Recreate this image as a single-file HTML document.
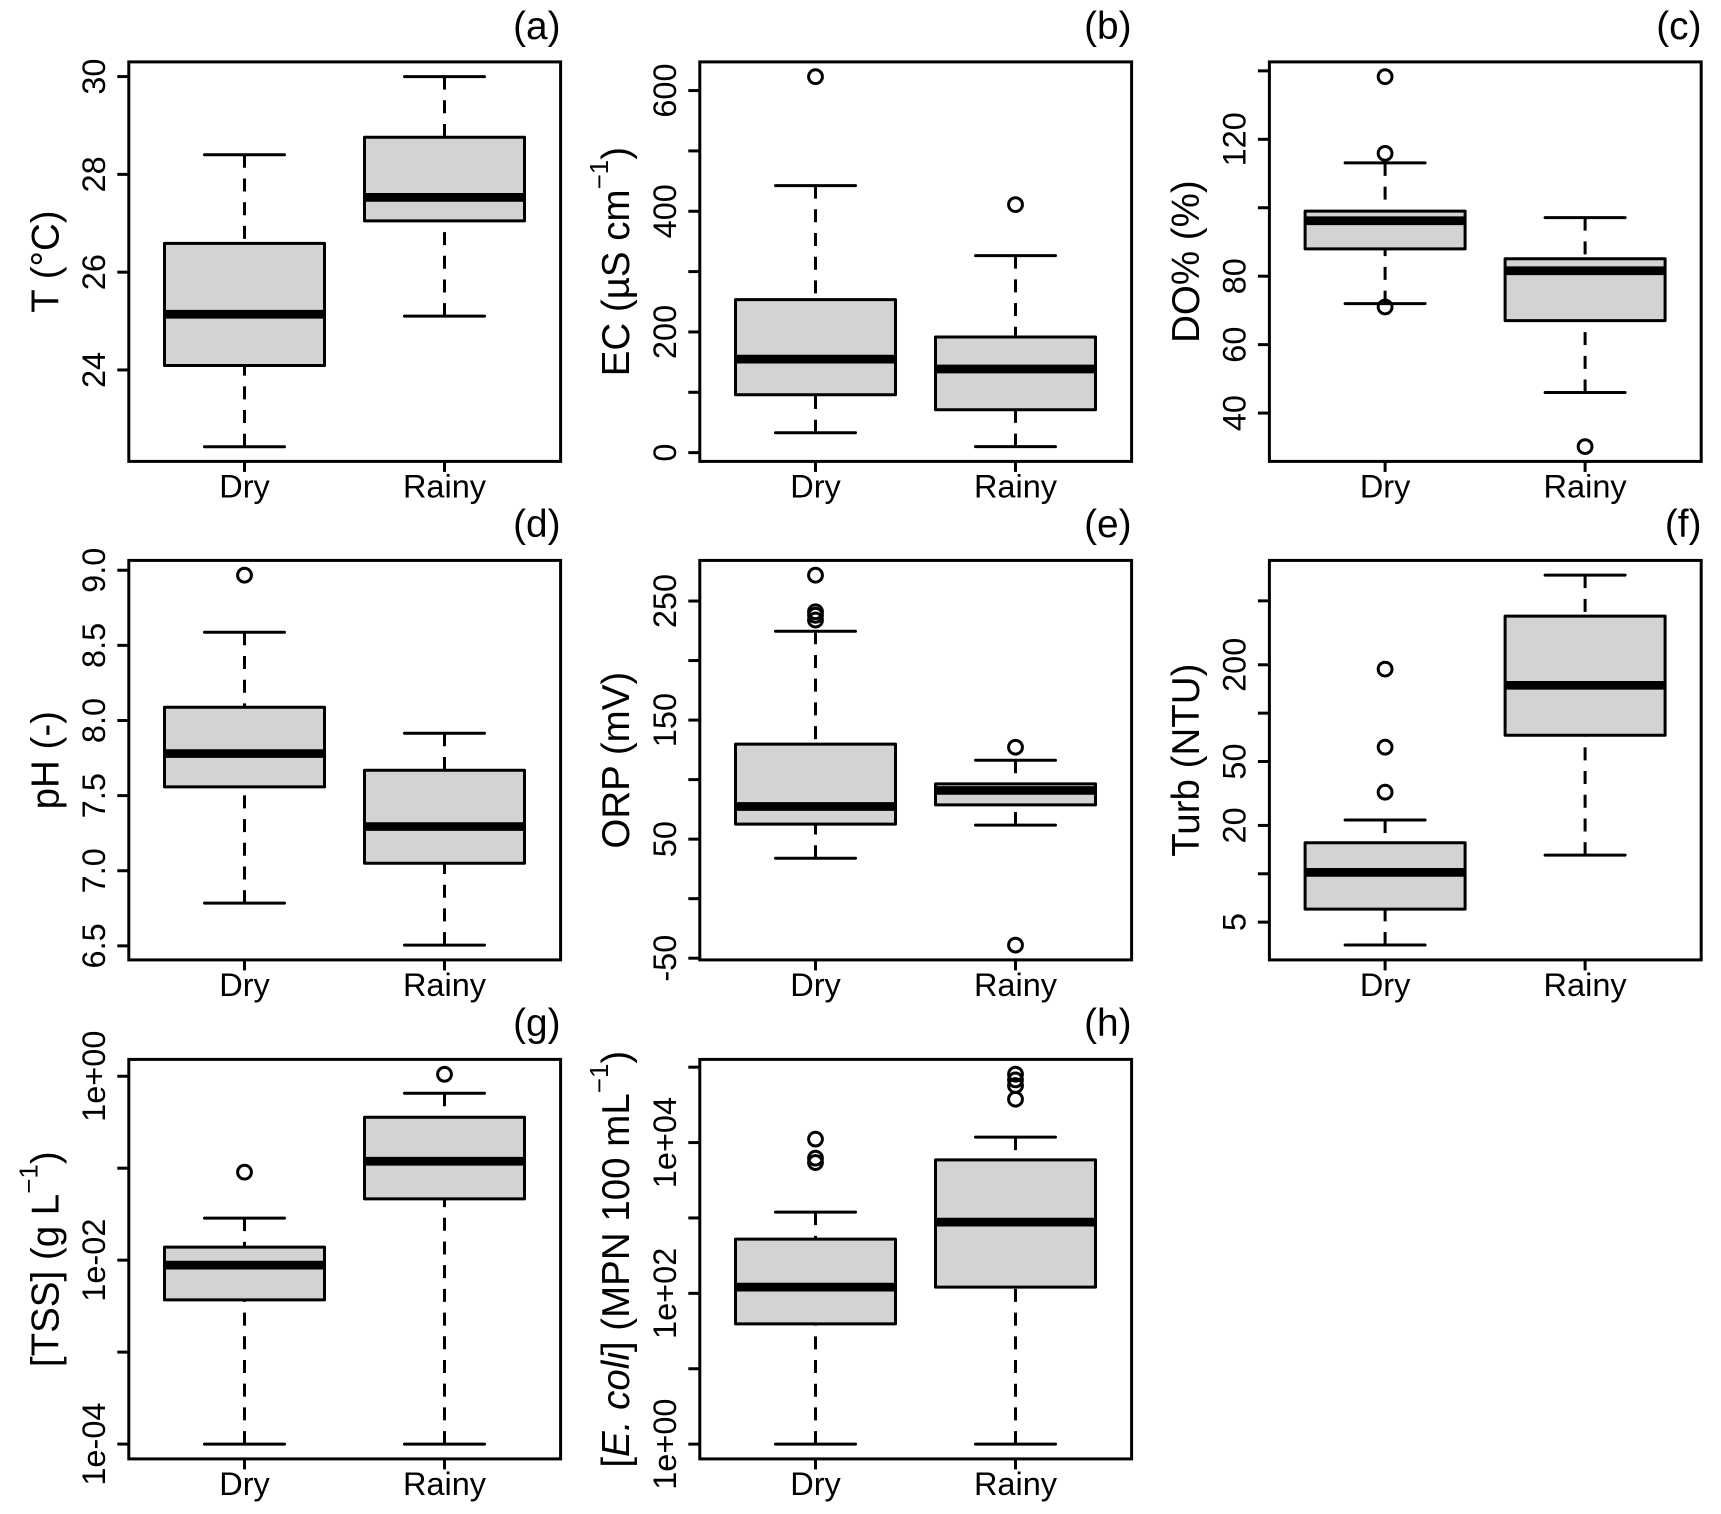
<!DOCTYPE html>
<html lang="en">
<head>
<meta charset="utf-8">
<title>Water quality boxplots: dry and rainy seasons</title>
<style>
html,body{margin:0;padding:0;background:#fff;}
svg{display:block;}
text{font-family:"Liberation Sans",Arial,sans-serif;fill:#000;}
.axis-title{font-size:38.5px;text-anchor:middle;}
.panel-label{font-size:38.8px;text-anchor:end;}
.sup{font-size:26px;}
</style>
</head>
<body>
<svg id="figure" xmlns="http://www.w3.org/2000/svg" width="1721" height="1514" viewBox="0 0 1721 1514">
  <rect x="0" y="0" width="1721" height="1514" fill="#fff"/>

  <text class="panel-label" x="560.5" y="39">(a)</text>
  <text class="panel-label" x="1131.5" y="39">(b)</text>
  <text class="panel-label" x="1701.5" y="39">(c)</text>
  <text class="panel-label" x="560.5" y="537">(d)</text>
  <text class="panel-label" x="1131.5" y="537">(e)</text>
  <text class="panel-label" x="1701.5" y="537">(f)</text>
  <text class="panel-label" x="560.5" y="1036">(g)</text>
  <text class="panel-label" x="1131.5" y="1036">(h)</text>

  <text class="axis-title" transform="translate(58.5,261.6) rotate(-90)">T (°C)</text>
  <text class="axis-title" transform="translate(628.8,261.6) rotate(-90)">EC (µS cm<tspan class="sup" dy="-21">−1</tspan><tspan dy="21">)</tspan></text>
  <text class="axis-title" transform="translate(1199,261.6) rotate(-90)">DO% (%)</text>
  <text class="axis-title" transform="translate(58.5,760.2) rotate(-90)">pH (-)</text>
  <text class="axis-title" transform="translate(628.8,760.2) rotate(-90)">ORP (mV)</text>
  <text class="axis-title" transform="translate(1199,760.2) rotate(-90)">Turb (NTU)</text>
  <text class="axis-title" transform="translate(58.5,1259.2) rotate(-90)">[TSS] (g L<tspan class="sup" dy="-21">−1</tspan><tspan dy="21">)</tspan></text>
  <text class="axis-title" transform="translate(628.8,1259.2) rotate(-90)">[<tspan font-style="italic">E. coli</tspan>] (MPN 100 mL<tspan class="sup" dy="-21">−1</tspan><tspan dy="21">)</tspan></text>

  <g id="plots"></g>
</svg>

<script>
// Shared categories
const categories = ['Dry', 'Rainy'];

// Each stats array: [lower whisker, lower hinge, median, upper hinge, upper whisker]

// (a) Temperature
const tempDomain = [22.13, 30.30];
const tempTicks = [24, 26, 28, 30];
const tempTickLabels = ['24', '26', '28', '30'];
const tempDry = [22.43, 24.09, 25.14, 26.59, 28.40];
const tempRainy = [25.10, 27.05, 27.53, 28.76, 30.0];
const tempDryOutliers = [];
const tempRainyOutliers = [];

// (b) Electrical conductivity
const ecDomain = [-14.5, 647.5];
const ecTicks = [0, 100, 200, 300, 400, 500, 600];
const ecTickLabels = ['0', '', '200', '', '400', '', '600'];
const ecDry = [33, 96, 155, 253.6, 442.5];
const ecRainy = [10, 71, 138.6, 191.7, 326.5];
const ecDryOutliers = [623];
const ecRainyOutliers = [411];

// (c) Dissolved oxygen
const doDomain = [25.88, 142.62];
const doTicks = [40, 60, 80, 100, 120, 140];
const doTickLabels = ['40', '60', '80', '', '120', ''];
const doDry = [72.0, 88.0, 96.2, 99.0, 113.1];
const doRainy = [46.0, 67.0, 81.6, 85.1, 97.1];
const doDryOutliers = [138.3, 115.9, 71.0];
const doRainyOutliers = [30.2];

// (d) pH
const phDomain = [6.4065, 9.0655];
const phTicks = [6.5, 7, 7.5, 8, 8.5, 9];
const phTickLabels = ['6.5', '7.0', '7.5', '8.0', '8.5', '9.0'];
const phDry = [6.784, 7.558, 7.78, 8.088, 8.587];
const phRainy = [6.505, 7.05, 7.294, 7.669, 7.915];
const phDryOutliers = [8.967];
const phRainyOutliers = [];

// (e) Oxidation-reduction potential
const orpDomain = [-51.43, 284.13];
const orpTicks = [-50, 0, 50, 100, 150, 200, 250];
const orpTickLabels = ['-50', '', '50', '', '150', '', '250'];
const orpDry = [34, 62.6, 77.4, 129.8, 224.6];
const orpRainy = [61.8, 78.8, 90.9, 96.4, 116.3];
const orpDryOutliers = [271.7, 241, 238, 234];
const orpRainyOutliers = [127.2, -39];

// (f) Turbidity (log scale)
const turbDomain = [2.91, 893];
const turbTicks = [5, 10, 20, 50, 100, 200, 500];
const turbTickLabels = ['5', '', '20', '50', '', '200', ''];
const turbDry = [3.6, 6.03, 10.2, 15.6, 21.6];
const turbRainy = [13.06, 72.9, 149, 402, 723];
const turbDryOutliers = [188, 61.4, 32.2];
const turbRainyOutliers = [];

// (g) Total suspended solids (log scale)
const tssDomain = [6.9e-5, 1.524];
const tssTicks = [1e-4, 1e-3, 1e-2, 1e-1, 1];
const tssTickLabels = ['1e-04', '', '1e-02', '', '1e+00'];
const tssDry = [1e-4, 0.0037, 0.00883, 0.01384, 0.0286];
const tssRainy = [1e-4, 0.0464, 0.119, 0.358, 0.653];
const tssDryOutliers = [0.0906];
const tssRainyOutliers = [1.05];

// (h) E. coli (log scale)
const ecoliDomain = [0.637, 126800];
const ecoliTicks = [1, 10, 100, 1000, 10000, 100000];
const ecoliTickLabels = ['1e+00', '', '1e+02', '', '1e+04', ''];
const ecoliDry = [1, 39.4, 121, 524, 1194];
const ecoliRainy = [1, 121, 880, 5890, 11800];
const ecoliDryOutliers = [11100, 6210, 5430];
const ecoliRainyOutliers = [80700, 67800, 57000, 37600];

const panels = [
  {key: 'temperature', col: 0, row: 0, log: false, domain: tempDomain, ticks: tempTicks, labels: tempTickLabels, series: [tempDry, tempRainy], outliers: [tempDryOutliers, tempRainyOutliers]},
  {key: 'conductivity', col: 1, row: 0, log: false, domain: ecDomain, ticks: ecTicks, labels: ecTickLabels, series: [ecDry, ecRainy], outliers: [ecDryOutliers, ecRainyOutliers]},
  {key: 'dissolved-oxygen', col: 2, row: 0, log: false, domain: doDomain, ticks: doTicks, labels: doTickLabels, series: [doDry, doRainy], outliers: [doDryOutliers, doRainyOutliers]},
  {key: 'ph', col: 0, row: 1, log: false, domain: phDomain, ticks: phTicks, labels: phTickLabels, series: [phDry, phRainy], outliers: [phDryOutliers, phRainyOutliers]},
  {key: 'orp', col: 1, row: 1, log: false, domain: orpDomain, ticks: orpTicks, labels: orpTickLabels, series: [orpDry, orpRainy], outliers: [orpDryOutliers, orpRainyOutliers]},
  {key: 'turbidity', col: 2, row: 1, log: true, domain: turbDomain, ticks: turbTicks, labels: turbTickLabels, series: [turbDry, turbRainy], outliers: [turbDryOutliers, turbRainyOutliers]},
  {key: 'tss', col: 0, row: 2, log: true, domain: tssDomain, ticks: tssTicks, labels: tssTickLabels, series: [tssDry, tssRainy], outliers: [tssDryOutliers, tssRainyOutliers]},
  {key: 'ecoli', col: 1, row: 2, log: true, domain: ecoliDomain, ticks: ecoliTicks, labels: ecoliTickLabels, series: [ecoliDry, ecoliRainy], outliers: [ecoliDryOutliers, ecoliRainyOutliers]}
];

const NS = 'http://www.w3.org/2000/svg';
const colLeft = [128.8, 699.8, 1269.4];
const rowTop = [61.9, 560.4, 1059.4];
const plotW = 431.8;
const plotH = 399.5;
const unitPx = 200;
const firstOffset = 115.7;
const LW = 3;

function makeY(p, top) {
  const tf = p.log ? Math.log10 : (v) => v;
  const lo = tf(p.domain[0]);
  const hi = tf(p.domain[1]);
  return (v) => top + plotH - (tf(v) - lo) / (hi - lo) * plotH;
}

function makeX(left) {
  return (i) => left + firstOffset + i * unitPx;
}

function svgEl(parent, tag, props) {
  const el = document.createElementNS(NS, tag);
  for (const k in props) el.setAttribute(k, props[k]);
  parent.appendChild(el);
  return el;
}

const root = document.getElementById('plots');

panels.forEach((p) => {
  const left = colLeft[p.col];
  const top = rowTop[p.row];
  const x = makeX(left);
  const y = makeY(p, top);
  const bottom = top + plotH;

  const g = svgEl(root, 'g', {});
  
  

  // Boxes and whiskers
  p.series.forEach((s, i) => {
    const cx = x(i);
    const group = svgEl(g, 'g', {});
    
    

    const whiskerProps = {stroke: '#000', 'stroke-width': LW, 'stroke-dasharray': '13 10.7', fill: 'none'};
    const lowWhisker = svgEl(group, 'line', Object.assign({x1: cx, x2: cx, y1: y(s[0]), y2: y(s[1])}, whiskerProps));
    
    
    const highWhisker = svgEl(group, 'line', Object.assign({x1: cx, x2: cx, y1: y(s[4]), y2: y(s[3])}, whiskerProps));
    
    

    [s[0], s[4]].forEach((v) => {
      const staple = svgEl(group, 'line', {x1: cx - 40, x2: cx + 40, y1: y(v), y2: y(v), stroke: '#000', 'stroke-width': LW, 'stroke-linecap': 'round'});
      
      
    });

    const box = svgEl(group, 'rect', {x: cx - 80, width: 160, y: y(s[3]), height: y(s[1]) - y(s[3]), fill: '#d3d3d3', stroke: '#000', 'stroke-width': LW, 'stroke-linejoin': 'round'});
    
    

    const median = svgEl(group, 'line', {x1: cx - 80, x2: cx + 80, y1: y(s[2]), y2: y(s[2]), stroke: '#000', 'stroke-width': 8.7});
    
    

    p.outliers[i].forEach((v) => {
      const pt = svgEl(group, 'circle', {cx: cx, cy: y(v), r: 6.9, fill: 'none', stroke: '#000', 'stroke-width': LW});
      
      
    });
  });

  // Plot frame
  const frame = svgEl(g, 'rect', {x: left, y: top, width: plotW, height: plotH, fill: 'none', stroke: '#000', 'stroke-width': LW});
  
  

  // Y axis ticks and labels
  p.ticks.forEach((v, i) => {
    const ty = y(v);
    const tick = svgEl(g, 'line', {x1: left - 11.5, x2: left, y1: ty, y2: ty, stroke: '#000', 'stroke-width': LW});
    
    
    if (p.labels[i]) {
      const label = svgEl(g, 'text', {'font-size': 32.5, 'text-anchor': 'middle', transform: 'translate(' + (left - 24) + ',' + ty + ') rotate(-90)'});
      
      
      label.textContent = p.labels[i];
    }
  });

  // X axis ticks and labels
  categories.forEach((c, i) => {
    const cx = x(i);
    const tick = svgEl(g, 'line', {x1: cx, x2: cx, y1: bottom, y2: bottom + 10.5, stroke: '#000', 'stroke-width': LW});
    
    
    const label = svgEl(g, 'text', {x: cx, y: bottom + 36, 'font-size': 32.5, 'text-anchor': 'middle'});
    
    
    label.textContent = c;
  });
});
</script>
</body>
</html>
